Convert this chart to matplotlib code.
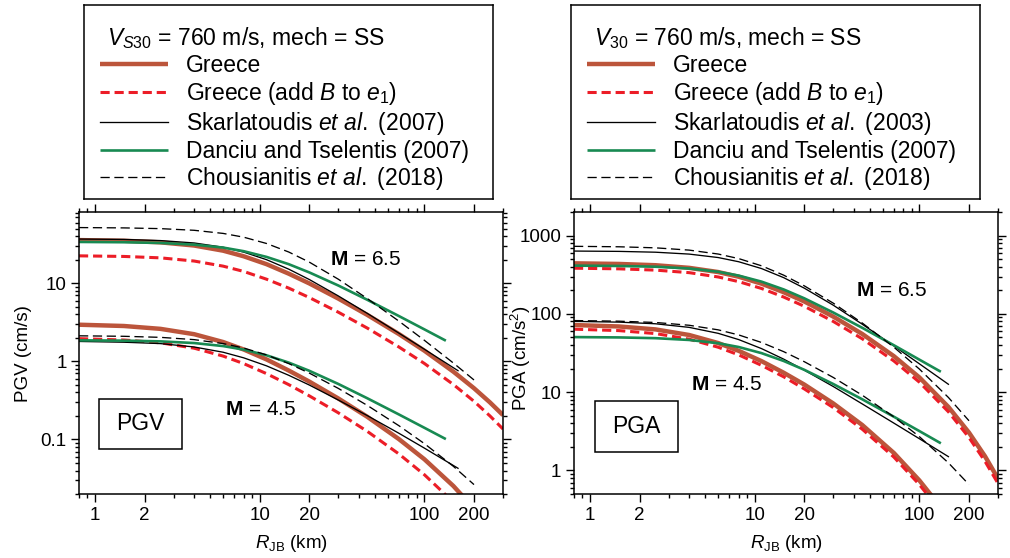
import numpy as np
import matplotlib
matplotlib.use("Agg")
import matplotlib.pyplot as plt
from matplotlib.lines import Line2D
from matplotlib.patches import Rectangle
from matplotlib.ticker import FixedLocator, LogLocator, NullFormatter, FuncFormatter

plt.rcParams['font.family'] = ['Liberation Sans', 'DejaVu Sans']
plt.rcParams['mathtext.fontset'] = 'custom'
plt.rcParams['mathtext.rm'] = 'Liberation Sans'
plt.rcParams['mathtext.it'] = 'Liberation Sans:italic'
plt.rcParams['mathtext.bf'] = 'Liberation Sans:bold'

# ---------------- distances R_JB (km) ----------------
R_GR = [0.8, 1.5, 2.5, 4, 6, 8, 11, 15, 20, 30, 45, 70, 100, 150, 200, 250, 300]
R_SK_V = [0.8, 1.5, 2.5, 4, 6, 8, 11, 15, 20, 30, 45, 70, 100, 160]
R_SK_A = [0.8, 1.5, 2.5, 4, 6, 8, 11, 15, 20, 30, 45, 70, 100, 150]
R_DT = [0.8, 1.5, 2.5, 4, 6, 8, 11, 15, 20, 30, 45, 70, 100, 135]
R_CH = [0.8, 1.5, 2.5, 4, 6, 8, 11, 15, 20, 30, 45, 70, 100, 150, 200]
R_GR45_V = [0.8, 1.5, 2.5, 4, 6, 8, 11, 15, 20, 30, 45, 70, 100, 150, 200]
R_GB45_V = [0.8, 1.5, 2.5, 4, 6, 8, 11, 15, 20, 30, 45, 70, 100, 150]
R_GR45_A = [0.8, 1.5, 2.5, 4, 6, 8, 11, 15, 20, 30, 45, 70, 100, 120]

# ---------------- PGV (cm/s), M 6.5 ----------------
pgv65_greece = [35.8, 35.1, 33.5, 30.5, 26.2, 22.2, 17.6, 13.3, 9.98, 6.38, 3.94, 2.24, 1.37, 0.738, 0.453, 0.298, 0.205]
pgv65_greece_b = [22.5, 22.1, 21.2, 19.3, 16.6, 14.2, 11.3, 8.69, 6.58, 4.27, 2.67, 1.53, 0.94, 0.505, 0.308, 0.2, 0.136]
pgv65_skarl = [36.9, 36.5, 35.3, 32.9, 29.0, 25.1, 20.1, 15.2, 11.2, 6.9, 4.12, 2.30, 1.43, 0.76]
pgv65_danciu = [33.9, 33.6, 32.9, 31.3, 28.7, 25.8, 21.8, 17.6, 13.8, 9.38, 6.15, 3.81, 2.57, 1.84]
pgv65_chous = [51.8, 51.3, 50.2, 47.8, 43.6, 39.0, 32.4, 25.2, 18.7, 11.3, 6.38, 3.28, 1.86, 0.952, 0.578]

# ---------------- PGV (cm/s), M 4.5 ----------------
pgv45_greece = [2.95, 2.84, 2.61, 2.23, 1.77, 1.42, 1.06, 0.764, 0.551, 0.335, 0.195, 0.101, 0.0557, 0.0253, 0.013]
pgv45_greece_b = [1.956, 1.88, 1.73, 1.476, 1.169, 0.936, 0.697, 0.504, 0.362, 0.2195, 0.127, 0.0652, 0.0353, 0.0157]
pgv45_skarl = [1.80, 1.76, 1.69, 1.53, 1.31, 1.11, 0.877, 0.664, 0.498, 0.32, 0.202, 0.12, 0.0774, 0.0427]
pgv45_danciu = [1.86, 1.844, 1.804, 1.718, 1.571, 1.415, 1.197, 0.965, 0.758, 0.514, 0.337, 0.209, 0.141, 0.101]
pgv45_chous = [2.126, 2.096, 2.032, 1.90, 1.692, 1.483, 1.211, 0.938, 0.708, 0.451, 0.273, 0.150, 0.0884, 0.0452, 0.0264]

# ---------------- PGA (cm/s^2), M 6.5 ----------------
pga65_greece = [442, 434, 418, 387, 342, 298, 243, 189, 144, 92.3, 55.3, 28.8, 15.4, 6.47, 3.04, 1.52, 0.786]
pga65_greece_b = [383, 376, 362, 336, 296, 258, 211, 164, 125, 80, 48.0, 25.0, 13.4, 5.61, 2.63, 1.31, 0.682]
pga65_skarl = [634, 628, 613, 580, 524, 463, 379, 290, 213, 129, 73.7, 38.9, 23.0, 12.6]
pga65_danciu = [413, 409, 400, 380, 345, 308, 258, 205, 158, 104, 66.3, 39.7, 26.0, 18.2]
pga65_chous = [729, 719, 697, 652, 581, 508, 411, 312, 228, 137, 76.3, 37.5, 19.7, 8.55, 4.31]

# ---------------- PGA (cm/s^2), M 4.5 ----------------
pga45_greece = [72.0, 69.0, 63.3, 53.7, 42.4, 33.7, 24.9, 17.7, 12.5, 7.17, 3.80, 1.67, 0.744, 0.46]
pga45_greece_b = [63.7, 61.1, 56.0, 47.5, 37.5, 29.9, 22.0, 15.7, 11.0, 6.35, 3.36, 1.48, 0.658, 0.407]
pga45_skarl = [80.1, 78.4, 74.7, 67.2, 56.4, 46.9, 36.0, 26.4, 19.1, 11.8, 7.07, 4.02, 2.54, 1.50]
pga45_danciu = [50.5, 50.0, 48.9, 46.4, 42.2, 37.7, 31.5, 25.0, 19.3, 12.7, 8.1, 4.85, 3.18, 2.22]
pga45_chous = [82.1, 80.6, 77.6, 71.5, 62.5, 53.8, 43.1, 32.9, 24.5, 15.4, 9.13, 4.83, 2.70, 1.25, 0.66]

X_TICKS = [1, 2, 10, 20, 100, 200]
PGV_TICKS = [0.1, 1, 10]
PGA_TICKS = [1, 10, 100, 1000]

LABELS_L = ["Greece", "Greece (add $B$ to $e_1$)", "Skarlatoudis $\\mathit{et\\ al.}$ (2007)",
            "Danciu and Tselentis (2007)", "Chousianitis $\\mathit{et\\ al.}$ (2018)"]
LABELS_R = ["Greece", "Greece (add $B$ to $e_1$)", "Skarlatoudis $\\mathit{et\\ al.}$ (2003)",
            "Danciu and Tselentis (2007)", "Chousianitis $\\mathit{et\\ al.}$ (2018)"]
TITLE_L = "$V_{\\mathit{S30}}$ = 760 m/s, mech = SS"
TITLE_R = "$V_{30}$ = 760 m/s, mech = SS"

# ---------------- line styles ----------------
BROWN = "#BC553B"
RED = "#EC1D27"
GREEN = "#188A52"
STY_GREECE = dict(color=BROWN, lw=3.2, solid_capstyle='butt', solid_joinstyle='round')
STY_GREECE_B = dict(color=RED, lw=2.2, ls=(0, (3.0, 1.6)))
STY_SKARL = dict(color="black", lw=0.95)
STY_DANCIU = dict(color=GREEN, lw=1.9, solid_capstyle='butt')
STY_CHOUS = dict(color="black", lw=0.95, ls=(0, (7, 3.5)))

FS_TICK = 13.5
FS_KEY = 16.5

fig = plt.figure(figsize=(10.10, 5.58), dpi=100)
W, H = 1010.0, 558.0


def px_rect(x0, y0, x1, y1):
    return [x0 / W, 1 - y1 / H, (x1 - x0) / W, (y1 - y0) / H]


def style_axes(ax, yticks):
    ax.set_xscale('log')
    ax.set_yscale('log')
    ax.set_xlim(0.8, 300)
    ax.xaxis.set_major_locator(FixedLocator(X_TICKS))
    ax.xaxis.set_minor_locator(LogLocator(base=10, subs=(3, 4, 5, 6, 7, 8, 9)))
    ax.yaxis.set_major_locator(FixedLocator(yticks))
    ax.yaxis.set_minor_locator(LogLocator(base=10, subs=(2, 3, 4, 5, 6, 7, 8, 9)))
    fmt = FuncFormatter(lambda v, p: "%g" % v)
    ax.xaxis.set_major_formatter(fmt)
    ax.yaxis.set_major_formatter(fmt)
    ax.xaxis.set_minor_formatter(NullFormatter())
    ax.yaxis.set_minor_formatter(NullFormatter())
    ax.tick_params(which='both', direction='out', top=True, right=True,
                   width=1.0, labelsize=FS_TICK, pad=3, color='black')
    ax.tick_params(which='major', length=6)
    ax.tick_params(which='minor', length=3)
    for s in ax.spines.values():
        s.set_linewidth(1.1)
    ax.set_xlabel("$R_{\\mathrm{JB}}$ (km)", fontsize=FS_TICK, labelpad=7)


def draw_set(ax, curves):
    for r, v, sty in curves:
        ax.plot(r, v, **sty)


def draw_key(rect, title, labels):
    kax = fig.add_axes(rect)
    kax.set_xticks([])
    kax.set_yticks([])
    for s in kax.spines.values():
        s.set_linewidth(1.1)
    kax.text(0.056, 0.83, title, transform=kax.transAxes, ha='left', va='center',
             fontsize=FS_KEY)
    handles = [Line2D([], [], **STY_GREECE), Line2D([], [], **STY_GREECE_B),
               Line2D([], [], **STY_SKARL), Line2D([], [], **STY_DANCIU),
               Line2D([], [], **STY_CHOUS)]
    kax.legend(handles, labels, loc='upper left', bbox_to_anchor=(0.039, 0.745),
               frameon=False, fontsize=FS_KEY, handlelength=2.97, handletextpad=0.8,
               labelspacing=0.12, borderaxespad=0, borderpad=0)


def tag_box(ax, text, rect_axes):
    x0, y0, x1, y1 = rect_axes
    ax.add_patch(Rectangle((x0, y0), x1 - x0, y1 - y0, transform=ax.transAxes,
                           fill=False, lw=1.1, ec='black', zorder=5))
    ax.text((x0 + x1) / 2, (y0 + y1) / 2, text, transform=ax.transAxes,
            ha='center', va='center', fontsize=16.5, zorder=5)


# ---------------- left panel: PGV ----------------
axL = fig.add_axes(px_rect(79, 212, 503, 494))
style_axes(axL, PGV_TICKS)
axL.set_ylim(0.02, 82)
draw_set(axL, [
    (R_GR, pgv65_greece, STY_GREECE), (R_GR, pgv65_greece_b, STY_GREECE_B),
    (R_SK_V, pgv65_skarl, STY_SKARL), (R_DT, pgv65_danciu, STY_DANCIU),
    (R_CH, pgv65_chous, STY_CHOUS),
    (R_GR45_V, pgv45_greece, STY_GREECE), (R_GB45_V, pgv45_greece_b, STY_GREECE_B),
    (R_SK_V, pgv45_skarl, STY_SKARL), (R_DT, pgv45_danciu, STY_DANCIU),
    (R_CH, pgv45_chous, STY_CHOUS),
])
axL.set_ylabel("PGV (cm/s)", fontsize=FS_TICK, va='center')
axL.yaxis.set_label_coords(-0.13, 0.498)
axL.text(0.675, 0.83, "$\\mathbf{M}$ = 6.5", transform=axL.transAxes,
         ha='center', va='center', fontsize=15)
axL.text(0.429, 0.301, "$\\mathbf{M}$ = 4.5", transform=axL.transAxes,
         ha='center', va='center', fontsize=15)
tag_box(axL, "PGV", (0.047, 0.160, 0.243, 0.337))

# ---------------- right panel: PGA ----------------
axR = fig.add_axes(px_rect(574, 212, 998, 494))
style_axes(axR, PGA_TICKS)
axR.set_ylim(0.5, 2000)
draw_set(axR, [
    (R_GR, pga65_greece, STY_GREECE), (R_GR, pga65_greece_b, STY_GREECE_B),
    (R_SK_A, pga65_skarl, STY_SKARL), (R_DT, pga65_danciu, STY_DANCIU),
    (R_CH, pga65_chous, STY_CHOUS),
    (R_GR45_A, pga45_greece, STY_GREECE), (R_GR45_A, pga45_greece_b, STY_GREECE_B),
    (R_SK_A, pga45_skarl, STY_SKARL), (R_DT, pga45_danciu, STY_DANCIU),
    (R_CH, pga45_chous, STY_CHOUS),
])
axR.set_ylabel("PGA (cm/s$^2$)", fontsize=FS_TICK, va='center')
axR.yaxis.set_label_coords(-0.125, 0.48)
axR.text(0.75, 0.723, "$\\mathbf{M}$ = 6.5", transform=axR.transAxes,
         ha='center', va='center', fontsize=15)
axR.text(0.361, 0.39, "$\\mathbf{M}$ = 4.5", transform=axR.transAxes,
         ha='center', va='center', fontsize=15)
tag_box(axR, "PGA", (0.0495, 0.149, 0.245, 0.330))

# ---------------- keys ----------------
draw_key(px_rect(84, 5, 493, 199), TITLE_L, LABELS_L)
draw_key(px_rect(571, 5, 980, 199), TITLE_R, LABELS_R)

fig.savefig("out.png", dpi=100)
